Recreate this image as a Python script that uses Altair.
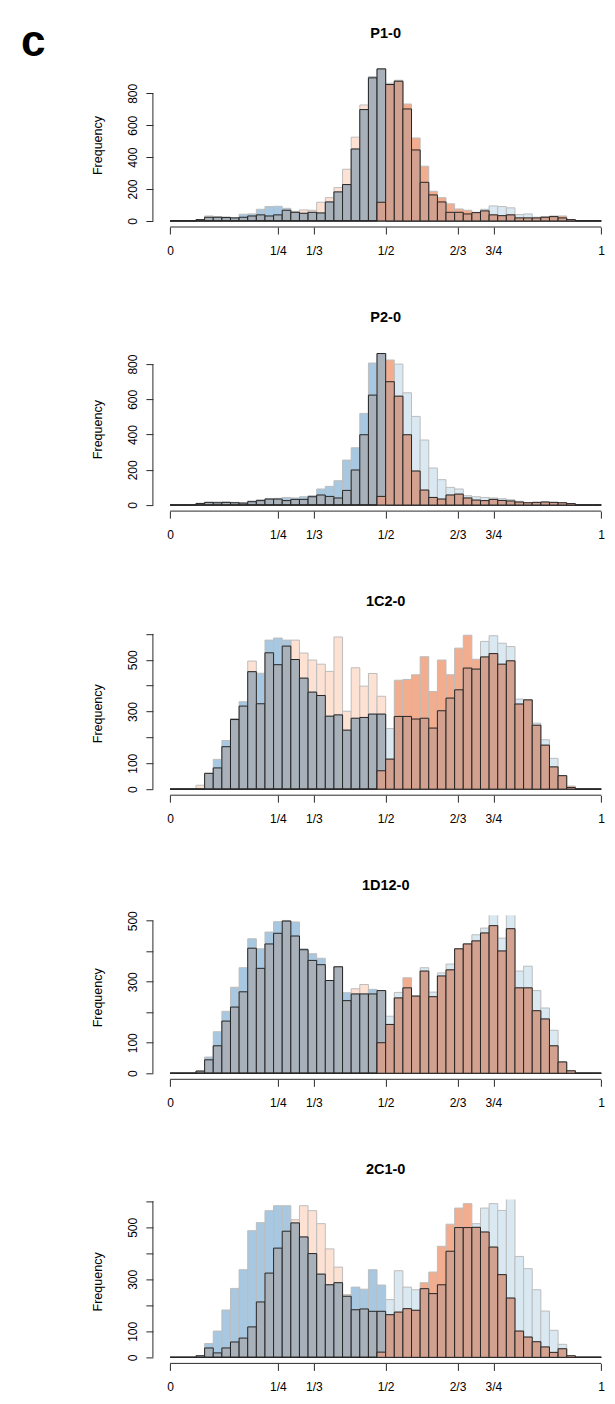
import altair as alt
import pandas as pd

# ------------------------------------------------------------------ data
BIN_WIDTH = 0.02
N_BINS = 50
BIN_START = [round(i * BIN_WIDTH, 2) for i in range(N_BINS)]
BIN_END = [round((i + 1) * BIN_WIDTH, 2) for i in range(N_BINS)]

PANEL_NAMES = ["P1-0", "P2-0", "1C2-0", "1D12-0", "2C1-0"]
PANEL_TAG = "c"

XTICK_VALUES = [0, 1 / 4, 1 / 3, 1 / 2, 2 / 3, 3 / 4, 1]
XTICK_LABELS = ["0", "1/4", "1/3", "1/2", "2/3", "3/4", "1"]

# y-limit (max of the first histogram of each panel) and y ticks
YLIM_MAX = [952, 862, 587, 498, 584]
YTICKS = [
    [0, 200, 400, 600, 800],
    [0, 200, 400, 600, 800],
    [0, 100, 200, 300, 400, 500, 600],
    [0, 100, 200, 300, 400, 500],
    [0, 100, 200, 300, 400, 500, 600],
]
YTICKS_UNLABELLED = [[], [], [200, 400, 600], [200, 400], [200, 400, 600]]

# counts per bin (bins of width 0.02 from 0 to 1)
P1_BLUE = [0, 0, 0, 8, 23, 23, 21, 19, 42, 44, 73, 90, 92, 79, 54, 48, 54, 50, 119, 182, 228, 451, 698, 905, 953] + [0] * 25
P1_PEACH = [0, 0, 0, 8, 31, 27, 25, 19, 23, 31, 38, 31, 38, 67, 60, 69, 67, 117, 146, 209, 324, 525, 727, 897, 953] + [0] * 25
P1_LBLUE = [0] * 24 + [117, 863, 882, 702, 445, 242, 163, 119, 54, 54, 44, 52, 73, 94, 90, 82, 40, 44, 23, 23, 27, 19, 8, 0, 0, 0]
P1_SALMON = [0] * 24 + [120, 855, 876, 733, 520, 343, 186, 146, 107, 75, 67, 54, 63, 38, 33, 38, 19, 19, 19, 27, 31, 31, 8, 0, 0, 0]

P2_BLUE = [0, 0, 0, 9, 15, 13, 15, 13, 11, 23, 30, 36, 38, 43, 40, 47, 53, 91, 106, 138, 255, 325, 520, 806, 860] + [0] * 25
P2_PEACH = [0, 0, 0, 9, 15, 17, 17, 15, 11, 19, 25, 34, 34, 25, 32, 32, 47, 57, 49, 40, 83, 199, 399, 624, 860] + [0] * 25
P2_LBLUE = [0] * 24 + [176, 700, 800, 637, 503, 369, 210, 144, 100, 91, 53, 47, 43, 40, 36, 30, 21, 13, 15, 17, 15, 13, 8, 0, 0, 0]
P2_SALMON = [0] * 24 + [49, 823, 618, 399, 193, 85, 43, 34, 57, 62, 40, 28, 25, 32, 26, 23, 17, 13, 15, 17, 15, 13, 8, 0, 0, 0]

C2_BLUE = [0, 0, 0, 0, 61, 115, 188, 269, 338, 454, 448, 576, 584, 576, 501, 429, 375, 362, 282, 287, 228, 274, 277, 290, 290] + [0] * 25
C2_PEACH = [0, 0, 0, 15, 61, 82, 164, 273, 321, 495, 330, 527, 481, 553, 576, 526, 499, 483, 455, 588, 301, 469, 398, 447, 359] + [0] * 25
C2_LBLUE = [0] * 24 + [71, 234, 281, 281, 271, 274, 236, 303, 352, 384, 468, 464, 571, 593, 564, 551, 348, 345, 255, 191, 119, 52, 6, 0, 0, 0]
C2_SALMON = [0] * 24 + [267, 116, 421, 424, 442, 512, 377, 499, 442, 545, 595, 502, 511, 524, 483, 496, 329, 345, 247, 170, 86, 52, 12, 0, 0, 0]

D12_BLUE = [0, 0, 0, 7, 53, 136, 203, 282, 346, 441, 408, 463, 497, 499, 496, 408, 392, 377, 304, 349, 264, 260, 260, 275, 271] + [0] * 25
D12_PEACH = [0, 0, 0, 7, 44, 90, 171, 217, 267, 410, 344, 424, 459, 501, 450, 405, 370, 356, 304, 349, 238, 277, 291, 260, 271] + [0] * 25
D12_LBLUE = [0] * 24 + [100, 187, 265, 280, 253, 346, 266, 329, 358, 408, 424, 454, 476, 530, 443, 530, 335, 351, 271, 214, 141, 37, 8, 0, 0, 0]
D12_SALMON = [0] * 24 + [126, 160, 247, 313, 253, 335, 251, 319, 339, 408, 424, 434, 460, 484, 401, 474, 280, 280, 205, 178, 90, 37, 8, 0, 0, 0]

C1_BLUE = [0, 0, 0, 6, 53, 101, 182, 265, 337, 487, 518, 564, 583, 583, 517, 463, 399, 320, 279, 287, 235, 270, 262, 337, 278] + [0] * 25
C1_PEACH = [0, 0, 0, 6, 36, 17, 36, 59, 74, 117, 213, 324, 420, 485, 529, 583, 564, 514, 417, 347, 241, 183, 186, 177, 177] + [0] * 25
C1_LBLUE = [0] * 24 + [68, 222, 333, 270, 260, 264, 245, 279, 408, 499, 499, 514, 574, 591, 565, 620, 388, 341, 260, 178, 104, 50, 6, 0, 0, 0]
C1_SALMON = [0] * 24 + [20, 164, 174, 187, 181, 287, 328, 427, 512, 574, 591, 500, 482, 424, 318, 228, 101, 78, 60, 40, 19, 33, 6, 0, 0, 0]

PANEL_SERIES = [
    (P1_BLUE, P1_PEACH, P1_LBLUE, P1_SALMON),
    (P2_BLUE, P2_PEACH, P2_LBLUE, P2_SALMON),
    (C2_BLUE, C2_PEACH, C2_LBLUE, C2_SALMON),
    (D12_BLUE, D12_PEACH, D12_LBLUE, D12_SALMON),
    (C1_BLUE, C1_PEACH, C1_LBLUE, C1_SALMON),
]

# ------------------------------------------------------------------ style
FONT = "Liberation Sans"
PEACH = "#FDE2D3"
BLUE = "#A7C8E0"
LBLUE = "#D9E8F1"
SALMON = "#F2AC8E"
GRAY_OVL = "#A8B0B9"
BROWN_OVL = "#D3A18F"
LIGHT_STROKE = "#BDBDBD"
DARK_STROKE = "#262626"
AXIS_COLOR = "#2b2b2b"

W = 452.6
H = 164
XMIN, XMAX = -0.04, 1.01


def x_label_expr():
    parts = [f"abs(datum.value - {v!r}) < 1e-6 ? '{lab}'" for v, lab in zip(XTICK_VALUES, XTICK_LABELS)]
    return " : ".join(parts) + " : ''"


def make_panel(i):
    blue, peach, lblue, salmon = PANEL_SERIES[i]
    ymax = YLIM_MAX[i]
    yt = YTICKS[i]
    hidden = YTICKS_UNLABELLED[i]
    df = pd.DataFrame({"x0": BIN_START, "x1": BIN_END, "blue": blue, "peach": peach,
                       "lblue": lblue, "salmon": salmon})
    xs = alt.Scale(domain=[XMIN, XMAX], nice=False, zero=False)
    ys = alt.Scale(domain=[-0.04 * ymax, 1.04 * ymax], nice=False, zero=False)

    xaxis = alt.Axis(values=XTICK_VALUES, labelExpr=x_label_expr(), title=None, domain=False,
                     grid=False, ticks=True, tickSize=7, tickColor=AXIS_COLOR, tickWidth=1,
                     labelFont=FONT, labelFontSize=12, labelColor="black", labelPadding=20,
                     labelBaseline="alphabetic", labelFlush=False, labelOverlap=False)
    yaxis = alt.Axis(values=yt, labelExpr=f"indexof({hidden}, datum.value) >= 0 ? '' : datum.label",
                     format="d", title="Frequency", titleFont=FONT, titleFontSize=12.5,
                     titleFontWeight="normal", titleColor="black", titleX=-51.8, titleY=H / 2,
                     titleAngle=270, titleAlign="center", titleBaseline="alphabetic",
                     domain=False, grid=False, ticks=True, tickSize=7, tickColor=AXIS_COLOR,
                     tickWidth=1, labelFont=FONT, labelFontSize=12, labelColor="black",
                     labelAngle=270, labelAlign="center", labelBaseline="alphabetic",
                     labelPadding=9.8, labelOverlap=False, labelFlush=False)

    base = alt.Chart(df)

    def bars(field, fill, stroke, calc=None):
        ch = base
        if calc is not None:
            ch = ch.transform_calculate(**calc)
        return ch.mark_rect(fill=fill, stroke=stroke, strokeWidth=1, clip=True).encode(
            x=alt.X("x0:Q", scale=xs, axis=xaxis),
            x2="x1",
            y=alt.Y(f"{field}:Q", scale=ys, axis=yaxis),
            y2=alt.Y2Datum(0),
        )

    layers = [
        bars("peach", PEACH, LIGHT_STROKE),
        bars("blue", BLUE, LIGHT_STROKE),
        bars("lblue", LBLUE, LIGHT_STROKE),
        bars("salmon", SALMON, LIGHT_STROKE),
        bars("ovl_left", GRAY_OVL, DARK_STROKE, calc={"ovl_left": "min(datum.blue, datum.peach)"}),
        bars("ovl_right", BROWN_OVL, DARK_STROKE, calc={"ovl_right": "min(datum.lblue, datum.salmon)"}),
    ]

    yline = alt.Chart(pd.DataFrame({"y0": [0], "y1": [max(yt)]})).mark_rule(
        color=AXIS_COLOR, strokeWidth=1).encode(
        x=alt.value(0), y=alt.Y("y0:Q", scale=ys, axis=yaxis), y2="y1")
    xline = alt.Chart(pd.DataFrame({"x0": [XTICK_VALUES[0]], "x1": [XTICK_VALUES[-1]]})).mark_rule(
        color=AXIS_COLOR, strokeWidth=1).encode(
        x=alt.X("x0:Q", scale=xs, axis=xaxis), x2="x1", y=alt.value(H))
    title = alt.Chart(pd.DataFrame({"t": [PANEL_NAMES[i]], "xc": [0.5]})).mark_text(
        font=FONT, fontSize=14.5, fontWeight="bold", align="center", baseline="alphabetic",
        color="black").encode(x=alt.X("xc:Q", scale=xs, axis=xaxis), y=alt.value(-25.2), text="t:N")
    layers += [yline, xline, title]

    if i == 0:
        tag = alt.Chart(pd.DataFrame({"t": [PANEL_TAG]})).mark_text(
            font=FONT, fontSize=44, fontWeight="bold", align="left", baseline="alphabetic",
            color="black").encode(x=alt.value(-131.9), y=alt.value(-7.5), text="t:N")
        layers.append(tag)

    return alt.layer(*layers).properties(width=W, height=H)


panels = [make_panel(i) for i in range(len(PANEL_NAMES))]

chart = alt.vconcat(*panels, spacing=120.1, bounds="flush").properties(
    padding={"left": 12.9, "top": 12, "right": 0, "bottom": 0}
).configure_view(strokeWidth=0)

chart.save("out.html", embed_options={"renderer": "svg", "actions": False})
